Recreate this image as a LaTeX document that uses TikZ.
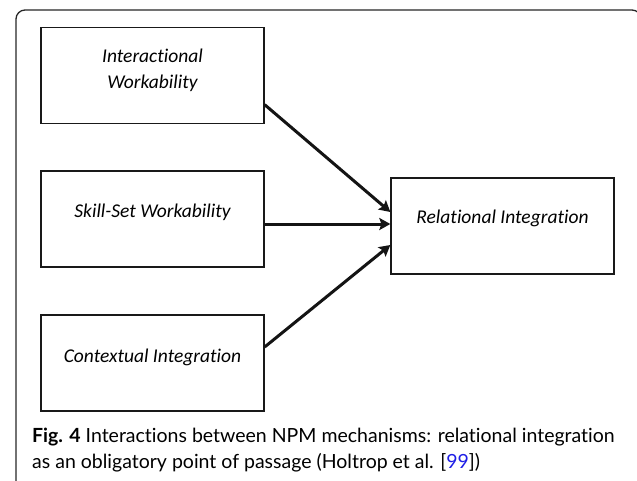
\documentclass[tikz,border=0pt]{standalone}
\usepackage{fontspec}
\setmainfont[Ligatures=NoCommon]{Lato}
\newfontfamily\boxfont[Ligatures=NoCommon]{Carlito}
\usetikzlibrary{arrows.meta}
\definecolor{linkblue}{RGB}{30,30,230}
\begin{document}
\begin{tikzpicture}[x=1pt,y=-1pt,
  box/.style={draw=black!90,line width=1.3pt,minimum width=223pt,minimum height=96pt,inner sep=0pt},
  lbl/.style={font=\boxfont\itshape\fontsize{19.5}{22}\selectfont,inner sep=0pt,anchor=base},
  conn/.style={line width=3pt,draw=black!92,-{Stealth[length=11pt,width=12pt,inset=2pt]}},
  captxt/.style={font=\fontsize{19.5}{22}\selectfont,inner sep=0pt,anchor=base west}]
\useasboundingbox (0,0) rectangle (637,480);
\begin{scope}
\clip (0,0) rectangle (637,480);
\draw[line width=1.3pt,black!85,rounded corners=9pt] (16,500) -- (16,10) -- (641,10) -- (641,500);
\end{scope}
\node[box] (b1) at (152.5,75.5) {};
\node[box] (b2) at (152.5,219) {};
\node[box] (b3) at (152.5,363) {};
\node[box] (b4) at (502.5,226) {};
\node[lbl] (t1a) at (152.5,62) {Interactional};
\node[lbl] (t1b) at (152.5,88) {Workability};
\node[lbl] (t2) at (152.5,217) {Skill-Set Workability};
\node[lbl] (t3) at (152.5,362) {Contextual Integration};
\node[lbl] (t4) at (502.5,223) {Relational Integration};
\draw[conn] ([yshift=19.5pt]b1.south east) -- ([yshift=14pt]b4.west);
\draw[conn] ([yshift=-5pt]b2.east) -- ([yshift=2pt]b4.west);
\draw[conn] ([yshift=16pt]b3.east) -- ([yshift=-19pt]b4.west);
\node[captxt] (c1) at (32,442) {\textbf{Fig. 4} Interactions between NPM mechanisms: relational integration};
\node[captxt] (c2) at (32,468) {as an obligatory point of passage (Holtrop et al. [\textcolor{linkblue}{99}])};
\end{tikzpicture}
\end{document}
